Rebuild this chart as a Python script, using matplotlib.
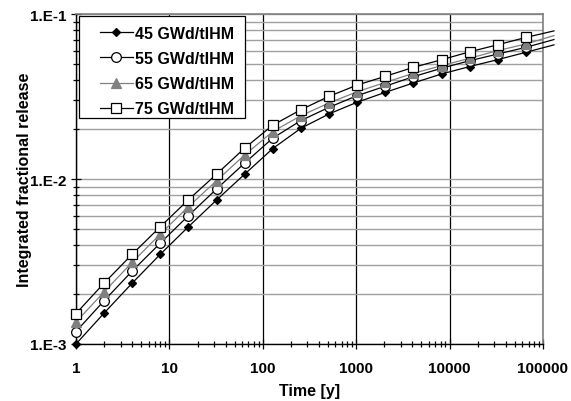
import matplotlib
matplotlib.use("Agg")
import matplotlib.pyplot as plt
from matplotlib.ticker import LogLocator, NullFormatter
from matplotlib.patches import Rectangle

plt.rcParams['font.family'] = ['Liberation Sans', 'DejaVu Sans']

time = [1, 2, 4, 8, 16, 32, 64, 128, 256, 512, 1024, 2048, 4096, 8192, 16384, 32768, 65536]
labels = ["45 GWd/tIHM", "55 GWd/tIHM", "65 GWd/tIHM", "75 GWd/tIHM"]
r45 = [1.00e-3, 1.54e-3, 2.34e-3, 3.50e-3, 5.14e-3, 7.46e-3, 1.07e-2, 1.53e-2, 2.03e-2, 2.48e-2,
       2.92e-2, 3.35e-2, 3.82e-2, 4.33e-2, 4.80e-2, 5.29e-2, 5.86e-2]
r55 = [1.19e-3, 1.83e-3, 2.77e-3, 4.09e-3, 6.00e-3, 8.70e-3, 1.25e-2, 1.77e-2, 2.26e-2, 2.72e-2,
       3.20e-2, 3.65e-2, 4.17e-2, 4.69e-2, 5.21e-2, 5.72e-2, 6.28e-2]
r65 = [1.36e-3, 2.07e-3, 3.13e-3, 4.64e-3, 6.80e-3, 9.77e-3, 1.40e-2, 1.94e-2, 2.42e-2, 2.89e-2,
       3.38e-2, 3.85e-2, 4.37e-2, 4.86e-2, 5.39e-2, 6.00e-2, 6.58e-2]
r75 = [1.53e-3, 2.34e-3, 3.50e-3, 5.14e-3, 7.49e-3, 1.07e-2, 1.54e-2, 2.12e-2, 2.63e-2, 3.17e-2,
       3.71e-2, 4.19e-2, 4.75e-2, 5.28e-2, 5.90e-2, 6.51e-2, 7.21e-2]
# curves continue slightly past the last marker
t_end = 131072
end_vals = [6.50e-2, 7.00e-2, 7.40e-2, 7.90e-2]

W, H = 571, 402
fig = plt.figure(figsize=(W / 100, H / 100), dpi=100)
ax = fig.add_axes([76 / W, 1 - 345 / H, (543 - 76) / W, (345 - 15) / H])
ax.set_xscale('log')
ax.set_yscale('log')
ax.set_xlim(1, 100000)
ax.set_ylim(1e-3, 1e-1)

styles = [
    dict(color='black', marker='D', markersize=4.5, markerfacecolor='black', markeredgecolor='black'),
    dict(color='black', marker='o', markersize=7, markerfacecolor='white', markeredgecolor='black'),
    dict(color='#808080', marker='^', markersize=6.5, markerfacecolor='#808080', markeredgecolor='#808080'),
    dict(color='black', marker='s', markersize=6.5, markerfacecolor='white', markeredgecolor='black'),
]
series = [r45, r55, r65, r75]
for vals, lab, st, ev in zip(series, labels, styles, end_vals):
    ax.plot(time + [t_end], vals + [ev], color=st['color'], lw=0.9, clip_on=False, zorder=3)
    ax.plot(time, vals, linestyle='none', marker=st['marker'], markersize=st['markersize'],
            markerfacecolor=st['markerfacecolor'], markeredgecolor=st['markeredgecolor'],
            markeredgewidth=0.9, clip_on=False, zorder=4)
    ax.plot([], [], label=lab, lw=0.9, markeredgewidth=0.9, **st)

# ticks and grid
ax.yaxis.set_minor_locator(LogLocator(base=10, subs=range(2, 10)))
ax.yaxis.set_minor_formatter(NullFormatter())
ax.xaxis.set_minor_locator(LogLocator(base=10, subs=range(2, 10)))
ax.xaxis.set_minor_formatter(NullFormatter())
ax.set_yticks([1e-3, 1e-2, 1e-1])
ax.set_yticklabels(['1.E-3', '1.E-2', '1.E-1'])
ax.set_xticks([1, 10, 100, 1000, 10000, 100000])
ax.set_xticklabels(['1', '10', '100', '1000', '10000', '100000'])
ax.grid(True, which='major', axis='x', color='black', lw=0.9)
ax.grid(True, which='both', axis='y', color='#a0a0a0', lw=1.0)
ax.set_axisbelow(True)

ax.tick_params(axis='both', which='major', direction='inout', length=7, width=0.9, labelsize=11)
ax.tick_params(axis='x', which='major', pad=9)
ax.tick_params(axis='y', which='major', pad=3)
ax.tick_params(axis='both', which='minor', direction='inout', length=5, width=0.9)
for lab in ax.get_xticklabels() + ax.get_yticklabels():
    lab.set_fontweight('bold')

for s in ['left', 'bottom']:
    ax.spines[s].set_color('black')
    ax.spines[s].set_linewidth(1.0)
for s in ['top', 'right']:
    ax.spines[s].set_color('#808080')
    ax.spines[s].set_linewidth(1.2)

ax.set_xlabel('Time [y]', fontsize=11.5, fontweight='bold')
ax.xaxis.set_label_coords(0.5, -(384 - 345) / 330)
ax.set_ylabel('Integrated fractional release', fontsize=11.5, fontweight='bold')
ax.yaxis.set_label_coords(-(76 - 32) / 467, 0.5)

# legend frame drawn separately, entries placed inside
frame = Rectangle((79 / W, 1 - 119 / H), (245 - 79) / W, (119 - 17) / H,
                  transform=fig.transFigure, facecolor='white', edgecolor='black',
                  lw=0.9, zorder=4.6, clip_on=False)
ax.add_patch(frame)
leg = ax.legend(loc='upper left', bbox_to_anchor=(100 / W, 1 - 27 / H),
                bbox_transform=fig.transFigure, fontsize=11.5, frameon=False,
                handlelength=2.05, borderpad=0, borderaxespad=0, labelspacing=0.63,
                handletextpad=0.15)
leg.set_zorder(5)
for t in leg.get_texts():
    t.set_fontweight('bold')

fig.savefig('out.png', dpi=100)
